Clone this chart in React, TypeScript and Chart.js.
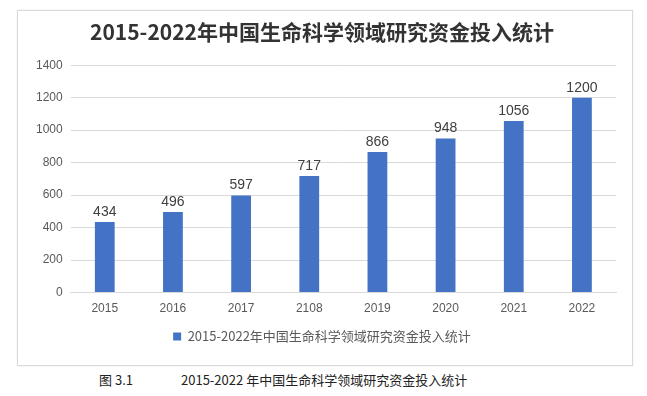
import React, { useEffect, useRef } from "react";
import { Chart, registerables } from "chart.js";

Chart.register(...registerables);

const TITLE = "2015-2022年中国生命科学领域研究资金投入统计";
const categories = ["2015", "2016", "2017", "2108", "2019", "2020", "2021", "2022"];
const values = [434, 496, 597, 717, 866, 948, 1056, 1200];
const yTicks = [0, 200, 400, 600, 800, 1000, 1200, 1400];
const CAPTION_NUM = "图 3.1";
const CAPTION_TEXT = "2015-2022 年中国生命科学领域研究资金投入统计";

const SANS = '"Liberation Sans", "Noto Sans CJK SC", sans-serif';
const CJK = '"Noto Sans CJK SC", sans-serif';

const dataLabels = {
  id: "dataLabels",
  afterDatasetsDraw(chart: any) {
    const ctx = chart.ctx;
    const meta = chart.getDatasetMeta(0);
    ctx.save();
    ctx.font = `14px ${SANS}`;
    ctx.fillStyle = "#404040";
    ctx.textAlign = "center";
    ctx.textBaseline = "bottom";
    meta.data.forEach((bar: any, i: number) => {
      ctx.fillText(String(values[i]), bar.x, bar.y - 3);
    });
    ctx.restore();
  },
};

export default function App() {
  const ref = useRef<HTMLCanvasElement | null>(null);
  useEffect(() => {
    if (!ref.current) return;
    const chart = new Chart(ref.current, {
      type: "bar",
      data: {
        labels: categories,
        datasets: [
          {
            label: TITLE,
            data: values,
            backgroundColor: "#4472C4",
            borderWidth: 0,
            barPercentage: 0.29,
            categoryPercentage: 1,
          },
        ],
      },
      options: {
        animation: false,
        responsive: false,
        maintainAspectRatio: false,
        layout: { padding: { left: 10, right: 16, top: 0, bottom: 12 } },
        plugins: {
          title: {
            display: true,
            text: TITLE,
            color: "#333333",
            font: { family: CJK, size: 21, weight: "bold" },
            padding: { top: 8, bottom: 21 },
          },
          legend: {
            display: true,
            position: "bottom",
            labels: {
              color: "#595959",
              font: { family: CJK, size: 13 },
              boxWidth: 8,
              boxHeight: 8,
              padding: 12,
            },
          },
          tooltip: { enabled: false },
        },
        scales: {
          x: {
            grid: { display: false },
            border: { display: true, color: "#d9d9d9" },
            ticks: { color: "#595959", font: { family: SANS, size: 12 }, padding: 1 },
            afterFit(scale: any) {
              scale.height = 25.5;
            },
          },
          y: {
            min: 0,
            max: 1400,
            afterBuildTicks(scale: any) {
              scale.ticks = yTicks.map((v) => ({ value: v }));
            },
            grid: { color: "#d9d9d9", drawTicks: false },
            border: { display: false },
            ticks: {
              color: "#595959",
              font: { family: SANS, size: 12 },
              padding: 8,
              callback: (v: any) => String(v),
            },
          },
        },
      },
      plugins: [dataLabels],
    });
    return () => chart.destroy();
  }, []);

  return (
    <div style={{ position: "fixed", left: 0, top: 0, width: 647, height: 396, background: "#fff" }}>
      <div
        style={{
          position: "absolute",
          left: 17,
          top: 10,
          width: 616,
          height: 356,
          border: "1px solid #d9d9d9",
          boxSizing: "border-box",
          boxShadow: "0 0 2px rgba(0,0,0,0.08)",
        }}
      >
        <canvas ref={ref} width={614} height={354} style={{ display: "block" }} />
      </div>
      <div
        style={{
          position: "absolute",
          top: 372,
          left: 99,
          fontFamily: CJK,
          fontSize: 13,
          color: "#222",
          whiteSpace: "pre",
          lineHeight: "16px",
        }}
      >
        {CAPTION_NUM}
        <span style={{ position: "absolute", left: 82 }}>{CAPTION_TEXT}</span>
      </div>
    </div>
  );
}
